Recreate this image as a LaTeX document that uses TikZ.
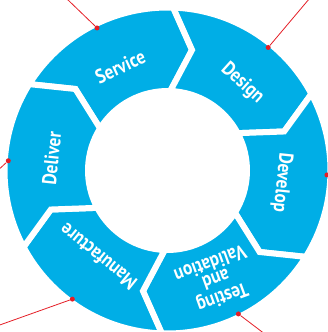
\documentclass[tikz,border=0pt]{standalone}
\usepackage{fontspec}
\setmainfont{PT Sans}
\newfontfamily\ringfont{PT Sans}[FakeStretch=0.86, UprightFont=*-Bold, UprightFeatures={FakeStretch=0.86}]
\usepackage{tikz}
\usetikzlibrary{positioning}

\definecolor{ringblue}{RGB}{0,174,230}
\definecolor{markred}{RGB}{228,30,38}

\tikzset{
  part/.style={fill=ringblue, draw=white, line width=6pt, line join=miter},
  lbl/.style={text=white, font=\ringfont\fontsize{20}{17}\selectfont, align=center, inner sep=0pt},
  dot/.style={circle, fill=markred, inner sep=0pt, minimum size=5pt},
  lead/.style={draw=markred, line width=0.8pt}
}

\begin{document}
\begin{tikzpicture}[x=1pt,y=1pt]
    \useasboundingbox (-167.5pt,-161.5pt) rectangle (159.5pt,170.5pt);
    \def\ro{163pt}
    \def\ri{79.5pt}
    \def\rt{123pt}
    % ring parts
    \foreach \a in {148,88,28,-32,-92,-152} {
        \pgfmathsetmacro\b{\a-60}
        \filldraw[part] (\a:\ro) arc[start angle=\a, end angle=\b, radius=\ro]
            -- ({\b-9.5}:\rt) -- (\b:\ri) arc[start angle=\b, end angle=\a, radius=\ri]
            -- ({\a-9.5}:\rt) -- cycle;
    }
    % labels
    \node[lbl, rotate=25] (service) at (114.5:114pt) {Service};
    \node[lbl, rotate=-42] (design) at (49.4:115pt) {Design};
    \node[lbl, rotate=-96] (develop) at (-6.1:115pt) {Develop};
    \node[lbl, rotate=-160] (testing) at (-66.1:121pt) {Testing\\and\\Validation};
    \node[lbl, rotate=141] (manufacture) at (-128.8:110.5pt) {Manufacture};
    \node[lbl, rotate=84] (deliver) at (174:116.5pt) {Deliver};
    % markers
    \node[dot] (dService) at (116.3:159pt) {};
    \node[dot] (dDesign) at (50.7:159pt) {};
    \node[dot] (dDevelop) at (-1.6:159.5pt) {};
    \node[dot] (dTesting) at (-63.7:160pt) {};
    \node[dot] (dManufacture) at (-126.5:160pt) {};
    \node[dot] (dDeliver) at (176.5:159.5pt) {};
    \coordinate (eService) at (-101pt,172pt);
    \coordinate (eDesign) at (142pt,172pt);
    \coordinate (eDevelop) at (175pt,-5pt);
    \coordinate (eTesting) at (98pt,-164pt);
    \coordinate (eManufacture) at (-172pt,-156pt);
    \coordinate (eDeliver) at (-172pt,-2pt);
    \path[lead] (dService) -- (eService);
    \path[lead] (dDesign) -- (eDesign);
    \path[lead] (dDevelop) -- (eDevelop);
    \path[lead] (dTesting) -- (eTesting);
    \path[lead] (dManufacture) -- (eManufacture);
    \path[lead] (dDeliver) -- (eDeliver);
\end{tikzpicture}
\end{document}
